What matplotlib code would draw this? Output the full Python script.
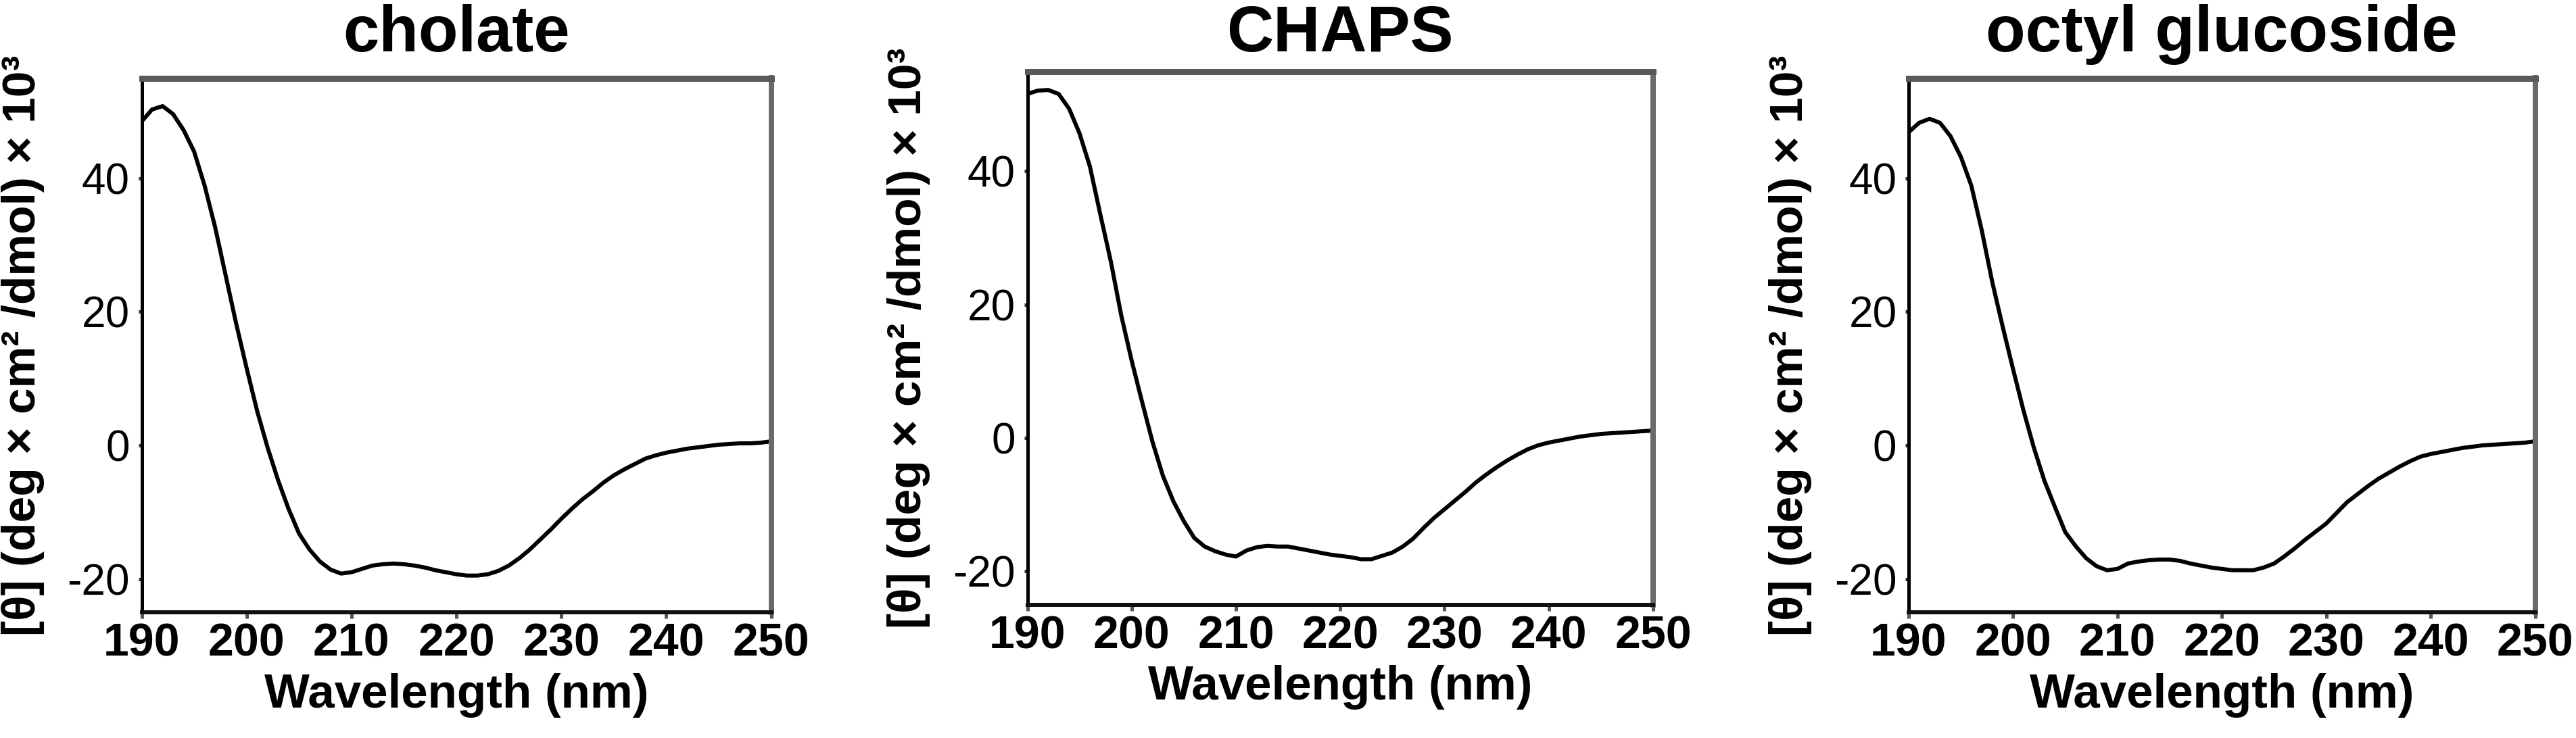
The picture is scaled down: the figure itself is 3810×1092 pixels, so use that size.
import matplotlib
matplotlib.use("Agg")
import matplotlib.pyplot as plt
from matplotlib import font_manager as fm

# ---------------- data ----------------
wavelength = list(range(190, 251))

cholate = [48.5, 50.3, 50.8, 49.6, 47.2, 44.0, 38.9, 32.7, 25.5, 18.3,
           11.6, 5.2, -0.3, -5.2, -9.5, -13.2, -15.6, -17.4, -18.6, -19.2,
           -19.0, -18.5, -18.0, -17.8, -17.7, -17.8, -18.0, -18.3, -18.7, -19.0,
           -19.3, -19.5, -19.5, -19.3, -18.8, -18.0, -16.9, -15.6, -14.1, -12.6,
           -11.0, -9.5, -8.1, -6.9, -5.6, -4.5, -3.6, -2.8, -2.0, -1.5,
           -1.1, -0.8, -0.5, -0.3, -0.1, 0.1, 0.2, 0.3, 0.3, 0.4,
           0.6]

chaps = [51.6, 52.1, 52.2, 51.6, 49.4, 45.7, 40.7, 33.5, 26.5, 18.4,
         11.6, 5.4, -0.6, -5.7, -9.5, -12.5, -15.0, -16.3, -17.0, -17.5,
         -17.8, -16.9, -16.4, -16.2, -16.3, -16.3, -16.6, -16.9, -17.2, -17.5,
         -17.7, -17.9, -18.2, -18.2, -17.7, -17.2, -16.3, -15.1, -13.5, -12.0,
         -10.7, -9.4, -8.1, -6.7, -5.5, -4.4, -3.4, -2.5, -1.7, -1.1,
         -0.7, -0.4, -0.1, 0.2, 0.4, 0.6, 0.7, 0.8, 0.9, 1.0,
         1.1]

octyl_glucoside = [46.9, 48.3, 48.9, 48.3, 46.3, 43.2, 38.9, 32.2, 24.5, 17.8,
                   11.4, 5.2, -0.4, -5.3, -9.2, -13.0, -15.1, -16.9, -18.1, -18.7,
                   -18.5, -17.7, -17.4, -17.2, -17.1, -17.1, -17.3, -17.7, -18.0, -18.3,
                   -18.5, -18.7, -18.7, -18.7, -18.3, -17.7, -16.6, -15.4, -14.1, -12.9,
                   -11.7, -10.1, -8.5, -7.3, -6.1, -5.0, -4.1, -3.2, -2.4, -1.7,
                   -1.3, -1.0, -0.7, -0.4, -0.2, 0.0, 0.1, 0.2, 0.3, 0.4,
                   0.6]

titles = ["cholate", "CHAPS", "octyl glucoside"]
series = [cholate, chaps, octyl_glucoside]
xticks = [190, 200, 210, 220, 230, 240, 250]
yticks = [-20, 0, 20, 40]
xlabel = "Wavelength (nm)"
ylabel = "[θ] (deg × cm² /dmol) × 10³"

# ---------------- style ----------------
names = {f.name for f in fm.fontManager.ttflist}
main_font = "Liberation Sans" if "Liberation Sans" in names else "DejaVu Sans"
narrow_font = "Liberation Sans Narrow" if "Liberation Sans Narrow" in names else main_font
plt.rcParams["font.family"] = [main_font, "DejaVu Sans"]

W, H = 3810, 1092
fig = plt.figure(figsize=(W / 100, H / 100), dpi=100)

# axes boxes in pixels: left, right, top, bottom
boxes = [(209.5, 1140.5, 115.5, 906.0),
         (1519.5, 2445.0, 105.5, 894.5),
         (2823.0, 3749.5, 115.5, 906.0)]
title_pads = [28.4, 21.2, 28.4]

px = 72 / 100.0  # points per pixel

for i, (L, R, T, B) in enumerate(boxes):
    ax = fig.add_axes([L / W, 1 - B / H, (R - L) / W, (B - T) / H])
    ax.plot(wavelength, series[i], color="black", lw=6 * px,
            solid_joinstyle="round", solid_capstyle="round")
    ax.set_xlim(190, 250)
    ax.set_ylim(-25, 55)
    ax.set_xticks(xticks)
    ax.set_yticks(yticks)
    ax.set_xticklabels([str(v) for v in xticks], fontsize=49, fontweight="bold",
                       family=[main_font, "DejaVu Sans"])
    ax.set_yticklabels([str(v) for v in yticks], fontsize=46,
                       family=[narrow_font, "DejaVu Sans"])
    ax.tick_params(axis="x", direction="out", length=9 * px, width=5 * px,
                   color="#555555", pad=4)
    ax.tick_params(axis="y", direction="out", length=5 * px, width=5 * px,
                   color="#333333", pad=9)
    ax.tick_params(top=False, right=False)

    ax.spines["left"].set_linewidth(5 * px)
    ax.spines["left"].set_color("black")
    ax.spines["bottom"].set_linewidth(6 * px)
    ax.spines["bottom"].set_color("#111111")
    ax.spines["top"].set_linewidth(9 * px)
    ax.spines["top"].set_color("#5a5a5a")
    ax.spines["right"].set_linewidth(8 * px)
    ax.spines["right"].set_color("#6a6a6a")

    ax.set_title(titles[i], fontsize=69, fontweight="bold", pad=title_pads[i])
    ax.set_xlabel(xlabel, fontsize=51, fontweight="bold", labelpad=8)
    ax.set_ylabel(ylabel, fontsize=50, fontweight="bold", va="center")
    ax.yaxis.set_label_coords(-175 / (R - L), 0.5)

fig.savefig("out.png", dpi=100, facecolor="white")
